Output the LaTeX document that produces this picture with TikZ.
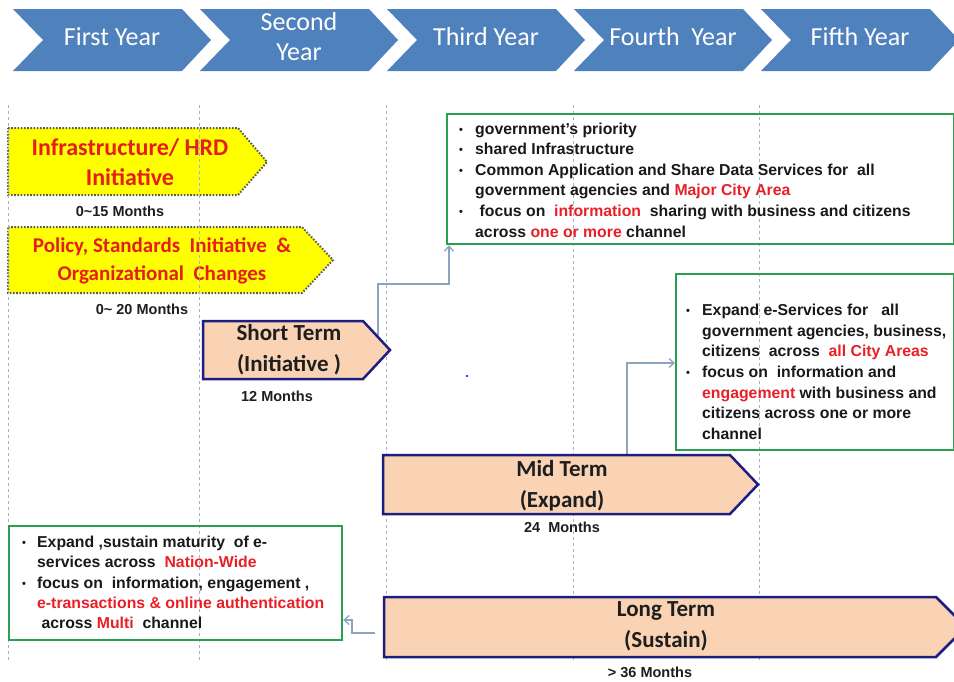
\documentclass[tikz,border=0pt]{standalone}
\usepackage{fontspec}
\setmainfont{Liberation Sans}
\newfontfamily\calibri{Carlito}
\usetikzlibrary{arrows.meta,calc}
\definecolor{hblue}{RGB}{79,129,189}
\definecolor{hred}{RGB}{232,32,38}
\definecolor{tred}{RGB}{228,30,26}
\definecolor{ggreen}{RGB}{40,160,80}
\definecolor{peach}{RGB}{250,211,180}
\definecolor{navy}{RGB}{30,30,130}
\definecolor{conncol}{RGB}{140,165,190}
\definecolor{gridcol}{RGB}{160,180,205}
\definecolor{ylw}{RGB}{255,255,0}
\definecolor{dotcol}{RGB}{90,90,90}
\definecolor{darktxt}{RGB}{30,30,30}
\newcommand{\bul}{\makebox[16pt][l]{\fontsize{11}{11}\selectfont\raisebox{1pt}{•}}}
\newcommand{\bulb}{\makebox[15pt][l]{\fontsize{11}{11}\selectfont\raisebox{1pt}{•}}}
\tikzset{
  yeartxt/.style={font=\calibri\fontsize{26}{30}\selectfont, text=white, align=center, inner sep=0},
  gridline/.style={draw=gridcol, line width=0.9pt, dash pattern=on 3pt off 3pt},
  ybox/.style={fill=ylw, draw=dotcol, line width=2pt, dash pattern=on 1.6pt off 1.6pt},
  ytitle/.style={font=\calibri\bfseries\fontsize{24}{30}\selectfont, text=tred, align=center, inner sep=0},
  ytitle2/.style={font=\calibri\bfseries\fontsize{21}{28}\selectfont, text=tred, align=center, inner sep=0},
  months/.style={font=\bfseries\fontsize{14.5}{16}\selectfont, text=darktxt, inner sep=0},
  gbox/.style={draw=ggreen, line width=2.2pt, anchor=north west, inner sep=0},
  bultext/.style={font=\bfseries\fontsize{15.8}{20.6}\selectfont, text=black!90, inner sep=0, anchor=north west},
  pbox/.style={fill=peach, draw=navy, line width=2.5pt, line join=miter},
  ptitle/.style={font=\calibri\bfseries\fontsize{23}{31}\selectfont, text=darktxt, align=center, inner sep=0},
  conn/.style={draw=conncol, line width=1.3pt},
  tip/.style={-{Straight Barb[length=5pt,width=9pt]}}
}
\begin{document}
\begin{tikzpicture}[x=1pt,y=-1pt]
\useasboundingbox (0,0) rectangle (954,681);
\clip (0,0) rectangle (954,681);
% header chevrons
\foreach \i/\t in {0/{First Year},1/{Second\\Year},2/{Third Year},3/{Fourth\ \ Year},4/{Fifth Year}}{
  \pgfmathsetmacro{\L}{13+187*\i}
  \fill[hblue] (\L,9) -- ++(169,0) -- ++(29,31) -- ++(-29,31) -- ++(-169,0) -- ++(30,-31) -- cycle;
  \node[yeartxt] (yr\i) at (\L+99,37) {\t};
}
% yellow initiative boxes
\filldraw[ybox] (8,128) -- (238,128) -- (267,162) -- (238,195) -- (8,195) -- cycle;
\node[ytitle] (infra) at (130,162) {Infrastructure/ HRD\\Initiative};
\node[months] (m15) at (120,211) {0\textasciitilde15 Months};
\filldraw[ybox] (8,227) -- (302,227) -- (333,260) -- (302,293) -- (8,293) -- cycle;
\node[ytitle2] (policy) at (162,261) {Policy, Standards\ \ Initiative\ \ \&\\Organizational\ \ Changes};
\node[months] (m20) at (142,309) {0\textasciitilde\ 20 Months};
% grid lines
\foreach \x in {8,199,386,573,759} \draw[gridline] (\x,105) -- (\x,660);
% green boxes
\node[gbox, minimum width=507pt, minimum height=130pt] (g1) at (446,113) {};
\node[bultext] (g1t) at (459,119.5) {\begin{tabular}{@{}l@{}l@{}}
\bul & government's priority\\
\bul & shared Infrastructure\\
\bul & Common Application and Share Data Services for\ \ all\\
 & government agencies and \textcolor{hred}{Major City Area}\\
\bul & \ focus on\ \ \textcolor{hred}{information}\ \ sharing with business and citizens\\
 & across \textcolor{hred}{one or more} channel
\end{tabular}};
\node[gbox, minimum width=278pt, minimum height=176pt] (g2) at (675,273) {};
\node[bultext] (g2t) at (686,301) {\begin{tabular}{@{}l@{}l@{}}
\bul & Expand e-Services for\ \ \ all\\
 & government agencies, business,\\
 & citizens\ \ across\ \ \textcolor{hred}{all City Areas}\\
\bul & focus on\ \ information and\\
 & \textcolor{hred}{engagement} with business and\\
 & citizens across one or more\\
 & channel
\end{tabular}};
\node[gbox, minimum width=333pt, minimum height=114pt] (g3) at (8,525) {};
\node[bultext, font=\bfseries\fontsize{15.8}{20.3}\selectfont] (g3t) at (22,533) {\begin{tabular}{@{}l@{}l@{}}
\bulb & Expand ,sustain maturity\ \ of e-\\
 & services across\ \ \textcolor{hred}{Nation-Wide}\\
\bulb & focus on\ \ information, engagement ,\\
 & \textcolor{hred}{e-transactions \& online authentication}\\
 & \ across \textcolor{hred}{Multi}\ \ channel
\end{tabular}};
% connectors
\coordinate (c1s) at (378,350);
\coordinate (k1) at (378,284);
\coordinate (k1b) at (449,284);
\draw[conn,tip] (c1s) -- (k1) -- (k1b) -- (k1b |- g1.south);
\coordinate (c2s) at (627,484);
\coordinate (k2) at (627,363);
\draw[conn,tip] (c2s) -- (k2) -- (k2 -| g2.west);
\coordinate (c3s) at (375,633);
\coordinate (k3) at (352,633);
\coordinate (k3b) at (352,620);
\draw[conn,tip] (c3s) -- (k3) -- (k3b) -- (k3b -| g3.east);
% term arrows
\filldraw[pbox] (203,321) -- (363,321) -- (390,350) -- (363,379) -- (203,379) -- cycle;
\node[ptitle] (short) at (289,350) {Short Term\\(Initiative )};
\node[months] (m12) at (277,396) {12 Months};
\filldraw[pbox] (383,455) -- (730,455) -- (758,484.5) -- (730,514) -- (383,514) -- cycle;
\node[ptitle] (mid) at (562,486) {Mid Term\\(Expand)};
\node[months] (m24) at (562,527) {24\ \ Months};
\filldraw[pbox] (384,597) -- (936,597) -- (966,627) -- (936,657) -- (384,657) -- cycle;
\node[ptitle] (long) at (666,626) {Long Term\\(Sustain)};
\node[months] (m36) at (650,672) {> 36 Months};
% stray dot
\fill[blue] (467,376) circle (1.2);
\end{tikzpicture}
\end{document}
